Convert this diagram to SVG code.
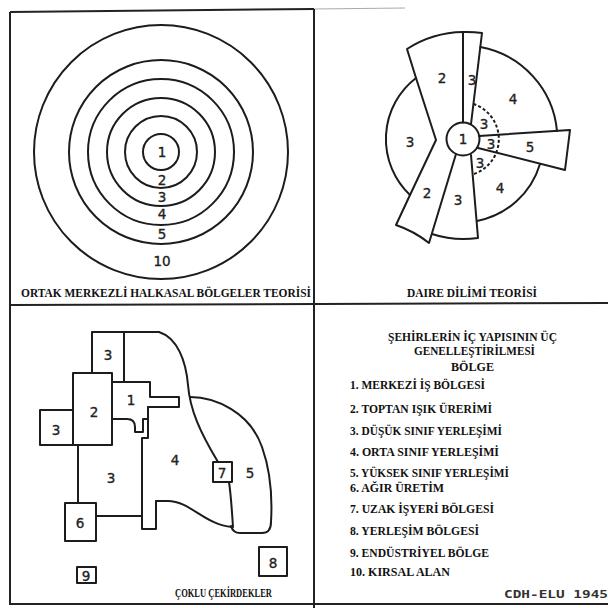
<svg xmlns="http://www.w3.org/2000/svg" width="608" height="608" viewBox="0 0 608 608">
<style>
.ln{fill:none;stroke:#1c1c1c;stroke-width:2;stroke-linejoin:round;stroke-linecap:round}
.fr{fill:none;stroke:#222;stroke-width:2}
.dash{fill:none;stroke:#1c1c1c;stroke-width:2;stroke-dasharray:3 2.2}
.num{font-family:"DejaVu Sans","Liberation Sans",sans-serif;font-size:13.5px;fill:#222;stroke:#222;stroke-width:0.35;text-anchor:middle;dominant-baseline:central}
.cap{font-family:"Liberation Serif",serif;font-weight:bold;font-size:12.5px;fill:#111}
.lg{font-family:"Liberation Serif",serif;font-weight:bold;font-size:12.5px;fill:#111}
.mark{font-family:"DejaVu Sans Mono","Liberation Mono",monospace;font-weight:bold;font-size:11px;fill:#333}
</style>
<rect width="608" height="608" fill="#fff"/>
<g id="frame">
<path class="fr" d="M10,12 L314,9"/>
<path d="M314,9 L405,8" fill="none" stroke="#aaa" stroke-width="1.2"/>
<path class="fr" d="M10,12 V604 H608"/>
<path class="fr" d="M314,9 V608"/>
<path class="fr" d="M10,305 L608,303"/>
</g>
<g id="concentric">
<circle class="ln" cx="161" cy="152" r="18"/>
<circle class="ln" cx="161" cy="152" r="36"/>
<circle class="ln" cx="161" cy="152" r="54"/>
<circle class="ln" cx="161" cy="152" r="73"/>
<circle class="ln" cx="161" cy="152" r="92"/>
<circle class="ln" cx="161" cy="152" r="127"/>
<text class="num" x="162" y="152">1</text>
<text class="num" x="162" y="180">2</text>
<text class="num" x="162" y="197">3</text>
<text class="num" x="162" y="214">4</text>
<text class="num" x="162" y="234">5</text>
<text class="num" x="162" y="261">10</text>
<text class="cap" x="21" y="297" textLength="290" lengthAdjust="spacingAndGlyphs">ORTAK MERKEZLİ HALKASAL BÖLGELER TEORİSİ</text>
</g>
<g id="sector">
<circle class="ln" cx="463" cy="139" r="16.5"/>
<path class="ln" d="M416,78 L407,49 A106,106 0 0 1 463,32 A107,107 0 0 1 482,33 L471,124"/>
<path class="ln" d="M463,32 V122.5"/>
<path class="ln" d="M416,78 L436,140 L410,195 L396,225 A109,109 0 0 1 429,243 L456,154"/>
<path class="ln" d="M416,78 A77,77 0 0 0 410,195"/>
<path class="ln" d="M480.3,47 A94,94 0 0 1 557,131"/>
<path class="ln" d="M479,136 L570,130 L565,170 L478,148"/>
<path class="ln" d="M540,164 A82,82 0 0 1 477,221"/>
<path class="ln" d="M471,155 L478,238 A100,100 0 0 1 432,234"/>
<path class="dash" d="M473.5,104 A37,37 0 0 1 472.6,174.5"/>
<text class="num" x="442" y="78">2</text>
<text class="num" x="472" y="80">3</text>
<text class="num" x="513" y="99">4</text>
<text class="num" x="410" y="142">3</text>
<text class="num" x="463" y="139">1</text>
<text class="num" x="484" y="124">3</text>
<text class="num" x="491" y="144">3</text>
<text class="num" x="480" y="163">3</text>
<text class="num" x="530" y="147">5</text>
<text class="num" x="427" y="193">2</text>
<text class="num" x="458" y="200">3</text>
<text class="num" x="500" y="188">4</text>
<text class="cap" x="407" y="297" textLength="130" lengthAdjust="spacingAndGlyphs">DAIRE DİLİMİ TEORİSİ</text>
</g>
<g id="nuclei">
<path class="ln" d="M92,373 V332 H159"/>
<path class="ln" d="M124,332 V382"/>
<path class="ln" d="M159,332 C178,338 186,362 188,385 C190,410 200,432 218,462"/>
<path class="ln" d="M229,482 C231,495 232,512 233,527"/>
<path class="ln" d="M190,397 C215,397 250,412 262,447 C272,475 272,505 271,522 Q271,533 262,533 H240 Q233,533 231,526"/>
<path class="ln" d="M156,501 H168 C190,501 205,525 232,527"/>
<path class="ln" d="M148,407 V438 H142 V529 H156 V501"/>
<path class="ln" d="M112,382 H150 V397 H179 V407 H148"/>
<path class="ln" d="M112,419 H127 Q135,419 135,427 V432 H143 V419 H148"/>
<rect class="ln" x="73" y="373" width="39" height="72"/>
<rect class="ln" x="40" y="410" width="33" height="35"/>
<path class="ln" d="M78,445 V503"/>
<path class="ln" d="M96,516 H142"/>
<rect class="ln" x="65" y="503" width="31" height="38"/>
<rect class="ln" x="213" y="462" width="19" height="20"/>
<rect class="ln" x="259" y="547" width="28" height="29"/>
<rect class="ln" x="77" y="567" width="19" height="16"/>
<text class="num" x="108" y="355">3</text>
<text class="num" x="94" y="412">2</text>
<text class="num" x="56" y="430">3</text>
<text class="num" x="131" y="400">1</text>
<text class="num" x="175" y="460">4</text>
<text class="num" x="222" y="473">7</text>
<text class="num" x="250" y="473">5</text>
<text class="num" x="111" y="478">3</text>
<text class="num" x="80" y="523">6</text>
<text class="num" x="273" y="563">8</text>
<text class="num" x="86" y="576">9</text>
<text class="cap" x="175" y="597" textLength="97" lengthAdjust="spacingAndGlyphs">ÇOKLU ÇEKİRDEKLER</text>
</g>
<g id="legend">
<text class="lg" x="388" y="341" textLength="169" lengthAdjust="spacingAndGlyphs">ŞEHİRLERİN İÇ YAPISININ ÜÇ</text>
<text class="lg" x="414" y="355" textLength="121" lengthAdjust="spacingAndGlyphs">GENELLEŞTİRİLMESİ</text>
<text class="lg" x="451" y="371" textLength="43" lengthAdjust="spacingAndGlyphs">BÖLGE</text>
<text class="lg" x="350" y="389" textLength="135" lengthAdjust="spacingAndGlyphs">1. MERKEZİ İŞ BÖLGESİ</text>
<text class="lg" x="350" y="413" textLength="142" lengthAdjust="spacingAndGlyphs">2. TOPTAN IŞIK ÜRERİMİ</text>
<text class="lg" x="350" y="435" textLength="152" lengthAdjust="spacingAndGlyphs">3. DÜŞÜK SINIF YERLEŞİMİ</text>
<text class="lg" x="350" y="456" textLength="149" lengthAdjust="spacingAndGlyphs">4. ORTA  SINIF YERLEŞİMİ</text>
<text class="lg" x="350" y="477" textLength="159" lengthAdjust="spacingAndGlyphs">5. YÜKSEK SINIF YERLEŞİMİ</text>
<text class="lg" x="350" y="492" textLength="94" lengthAdjust="spacingAndGlyphs">6. AĞIR ÜRETİM</text>
<text class="lg" x="350" y="513" textLength="144" lengthAdjust="spacingAndGlyphs">7. UZAK İŞYERİ BÖLGESİ</text>
<text class="lg" x="350" y="535" textLength="129" lengthAdjust="spacingAndGlyphs">8. YERLEŞİM BÖLGESİ</text>
<text class="lg" x="350" y="557" textLength="139" lengthAdjust="spacingAndGlyphs">9. ENDÜSTRİYEL BÖLGE</text>
<text class="lg" x="350" y="576" textLength="100" lengthAdjust="spacingAndGlyphs">10. KIRSAL ALAN</text>
<text class="mark" x="504" y="598" textLength="104" lengthAdjust="spacingAndGlyphs">CDH-ELU 1945</text>
</g>
</svg>
